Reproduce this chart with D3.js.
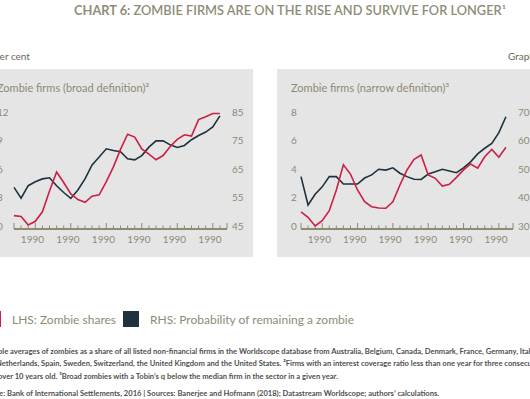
<!DOCTYPE html>
<html>
<head>
<meta charset="utf-8">
<script src="https://cdn.jsdelivr.net/npm/d3@7"></script>
<style>
  body { margin: 0; background: #fff; }
  svg { display: block; font-family: Lato, "Open Sans", sans-serif; }
</style>
</head>
<body>
<div id="chart"></div>
<script>
// x positions: one per year, the axis runs one year past the last point
const years = [1983, 1984, 1985, 1986, 1987, 1988, 1989, 1990, 1991, 1992,
  1993, 1994, 1995, 1996, 1997, 1998, 1999, 2000, 2001, 2002,
  2003, 2004, 2005, 2006, 2007, 2008, 2009, 2010, 2011, 2012, 2013];
// the original prints the same label under every major tick
const xTickLabels = ['1990', '1990', '1990', '1990', '1990', '1990'];

// broad definition
const broadShares = [1.1, 1.0, 0.1, 0.5, 1.5, 3.7, 5.7, 4.6, 3.4, 2.8,
  2.5, 3.15, 3.3, 4.7, 6.25, 8.1, 9.7, 9.4, 8.15, 7.6,
  7.0, 7.45, 8.4, 9.15, 9.65, 9.5, 11.25, 11.55, 11.9, 11.9];
const broadProb = [58.6, 54.8, 59.2, 60.6, 61.6, 62.0, 59.2, 56.8, 54.7, 57.7,
  61.6, 66.5, 69.3, 72.2, 71.6, 71.2, 68.7, 68.3, 69.8, 72.8,
  75.0, 75.0, 73.6, 72.7, 73.4, 75.4, 76.9, 78.1, 79.9, 83.8];
const broadLeftTicks = [0, 3, 6, 9, 12];
const broadRightTicks = [45, 55, 65, 75, 85];

// narrow definition
const narrowShares = [0.99, 0.61, 0.0, 0.37, 1.08, 2.54, 4.32, 3.66, 2.54, 1.71,
  1.36, 1.27, 1.25, 1.71, 2.89, 3.95, 4.7, 5.0, 3.6, 3.36,
  2.82, 2.94, 3.43, 3.95, 4.37, 4.07, 4.88, 5.4, 4.84, 5.55];
const narrowProb = [47.4, 37.4, 41.2, 43.8, 47.4, 47.4, 44.8, 44.8, 44.8, 46.9,
  48.0, 50.0, 49.7, 50.5, 48.6, 47.4, 46.5, 46.4, 48.3, 49.1,
  50.0, 49.4, 48.8, 50.5, 52.6, 55.4, 57.4, 59.1, 62.9, 68.5];
const narrowLeftTicks = [0, 2, 4, 6, 8];
const narrowRightTicks = [30, 40, 50, 60, 70];

const red = '#cc1f45';
const navy = '#1d323e';
const olive = '#8e8a76';
const panelBg = '#e5e5e5';

const width = 530, height = 399;

const svg = d3.select('#chart')
  .append('svg')
  .attr('width', width)
  .attr('height', height);

// title
const title = svg.append('text')
  .attr('x', 290)
  .attr('y', 15)
  .attr('text-anchor', 'middle')
  .attr('fill', '#8f8c79')
  .style('font-size', '12.8px');
title.append('tspan').attr('font-weight', 700).text('CHART 6: ');
title.append('tspan').attr('font-weight', 600).text('ZOMBIE FIRMS ARE ON THE RISE AND SURVIVE FOR LONGER¹');

svg.append('text')
  .attr('x', -6).attr('y', 60)
  .attr('fill', '#6b6858')
  .style('font-size', '10px')
  .text('per cent');
svg.append('text')
  .attr('x', 508).attr('y', 60)
  .attr('fill', '#6b6858')
  .style('font-size', '10px')
  .text('Graph');

const panels = [
  {
    bg: [-17, 253], labelX: -3, x0: 14, x1: 227,
    title: 'Zombie firms (broad definition)²',
    shares: broadShares, prob: broadProb,
    leftTicks: broadLeftTicks, rightTicks: broadRightTicks
  },
  {
    bg: [277, 545], labelX: 291, x0: 301, x1: 513,
    title: 'Zombie firms (narrow definition)³',
    shares: narrowShares, prob: narrowProb,
    leftTicks: narrowLeftTicks, rightTicks: narrowRightTicks
  }
];

panels.forEach(p => {
  const g = svg.append('g');

  g.append('rect')
    .attr('x', p.bg[0]).attr('y', 69)
    .attr('width', p.bg[1] - p.bg[0]).attr('height', 188)
    .attr('fill', panelBg);

  g.append('text')
    .attr('x', p.labelX).attr('y', 92)
    .attr('fill', olive)
    .style('font-size', '11px')
    .text(p.title);

  const x = d3.scaleLinear()
    .domain([0, years.length - 1])
    .range([p.x0, p.x1]);

  const yL = d3.scaleLinear()
    .domain(d3.extent(p.leftTicks))
    .range([226, 112.5]);
  const yR = d3.scaleLinear()
    .domain(d3.extent(p.rightTicks))
    .range([226, 112.5]);

  // left tick labels
  g.selectAll('.lt')
    .data(p.leftTicks)
    .enter()
    .append('text')
    .attr('x', p.labelX)
    .attr('y', d => yL(d) + 3.5)
    .attr('fill', olive)
    .style('font-size', '10px')
    .text(d => d);

  // right tick labels
  g.selectAll('.rt')
    .data(p.rightTicks)
    .enter()
    .append('text')
    .attr('x', p.x1 + 5)
    .attr('y', d => yR(d) + 3.5)
    .attr('fill', olive)
    .style('font-size', '10px')
    .text(d => d);

  // x axis: one tick per year, longer ticks every five years
  const axisY = 229;
  g.append('line')
    .attr('x1', p.x0).attr('x2', p.x1)
    .attr('y1', axisY).attr('y2', axisY)
    .attr('stroke', olive)
    .attr('stroke-width', 2);

  g.selectAll('.tick')
    .data(years)
    .enter()
    .append('line')
    .attr('x1', (d, i) => x(i))
    .attr('x2', (d, i) => x(i))
    .attr('y1', axisY)
    .attr('y2', (d, i) => (i % 5 === 3 || i === 0 || i === years.length - 1) ? axisY - 6 : axisY - 3.5)
    .attr('stroke', olive)
    .attr('stroke-width', 1);

  g.selectAll('.xl')
    .data(xTickLabels)
    .enter()
    .append('text')
    .attr('x', (d, i) => x(2.6 + i * 5))
    .attr('y', 243)
    .attr('text-anchor', 'middle')
    .attr('fill', olive)
    .style('font-size', '10px')
    .text(d => d);

  const lineL = d3.line()
    .x((d, i) => x(i))
    .y(d => yL(d));
  const lineR = d3.line()
    .x((d, i) => x(i))
    .y(d => yR(d));

  g.append('path')
    .datum(p.prob)
    .attr('d', lineR)
    .attr('fill', 'none')
    .attr('stroke', navy)
    .attr('stroke-width', 1.6);

  g.append('path')
    .datum(p.shares)
    .attr('d', lineL)
    .attr('fill', 'none')
    .attr('stroke', red)
    .attr('stroke-width', 1.6);
});

// legend
const legend = [
  { label: 'LHS: Zombie shares', color: red, x: -15 },
  { label: 'RHS: Probability of remaining a zombie', color: navy, x: 123 }
];
const lg = svg.selectAll('.legend')
  .data(legend)
  .enter()
  .append('g');
lg.append('rect')
  .attr('x', d => d.x).attr('y', 311)
  .attr('width', 16).attr('height', 16)
  .attr('fill', d => d.color);
lg.append('text')
  .attr('x', d => d.x + 27).attr('y', 324)
  .attr('fill', olive)
  .style('font-size', '12px')
  .text(d => d.label);

// footnotes
const notes = [
  '¹Simple averages of zombies as a share of all listed non-financial firms in the Worldscope database from Australia, Belgium, Canada, Denmark, France, Germany, Italy, Japan, Korea, the',
  'Netherlands, Spain, Sweden, Switzerland, the United Kingdom and the United States. ²Firms with an interest coverage ratio less than one year for three consecutive years and',
  'over 10 years old. ³Broad zombies with a Tobin’s q below the median firm in the sector in a given year.'
];
const noteX = [-17, -4, -2];
svg.selectAll('.note')
  .data(notes)
  .enter()
  .append('text')
  .attr('x', (d, i) => noteX[i])
  .attr('y', (d, i) => 354 + i * 12.3)
  .attr('fill', '#4f4f4f')
  .attr('font-weight', 700)
  .style('font-size', '7.6px')
  .text(d => d);

svg.append('text')
  .attr('x', -20).attr('y', 396)
  .attr('fill', '#4f4f4f')
  .attr('font-weight', 700)
  .style('font-size', '7.6px')
  .text('Source: Bank of International Settlements, 2016  |  Sources: Banerjee and Hofmann (2018); Datastream Worldscope; authors’ calculations.');
</script>
</body>
</html>
